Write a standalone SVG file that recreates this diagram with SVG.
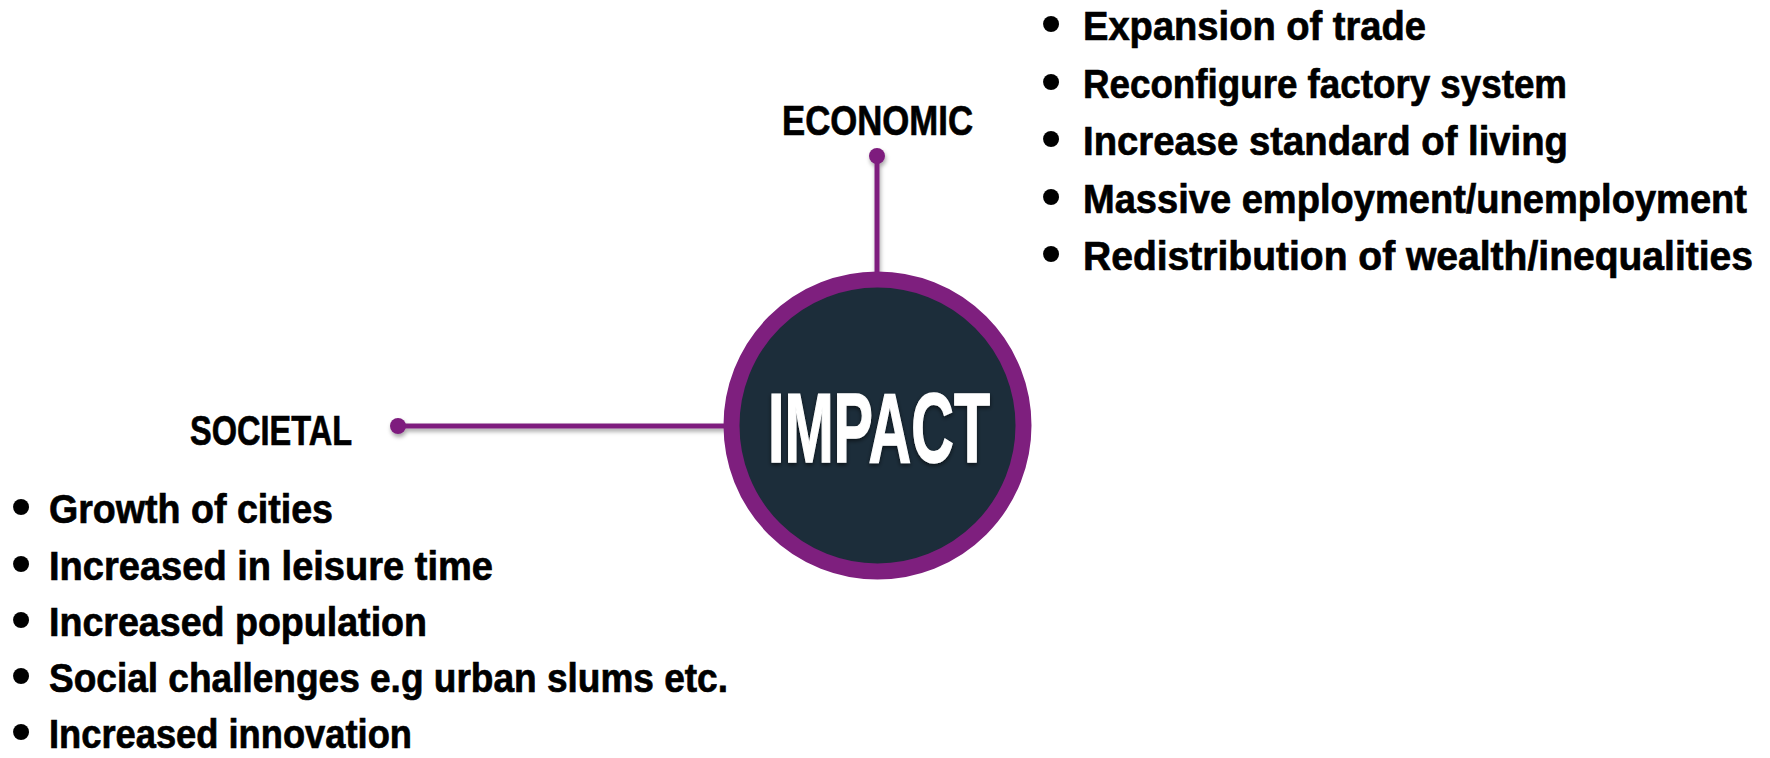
<svg xmlns="http://www.w3.org/2000/svg" width="1770" height="758" viewBox="0 0 1770 758">
  <defs>
    <style>
      .lbl { font-family: "Liberation Sans", Arial, sans-serif; font-weight: bold; fill: #000; stroke: #000; stroke-width: 0.7px; }
      .head { font-size: 43px; }
      .item { font-size: 41px; }
      .bul { font-family: "Liberation Sans", Arial, sans-serif; font-weight: bold; font-size: 56px; fill: #000; text-anchor: middle; }
      .conn { stroke: #7e1f7e; stroke-width: 5; fill: none; }
      .dot { fill: #7e1f7e; }
    </style>
    <filter id="shadow" x="-20%" y="-20%" width="140%" height="140%">
      <feDropShadow dx="1" dy="3" stdDeviation="2" flood-color="#000" flood-opacity="0.35"/>
    </filter>
    <filter id="tshadow" x="-10%" y="-10%" width="120%" height="130%">
      <feDropShadow dx="0" dy="2" stdDeviation="2" flood-color="#000" flood-opacity="0.6"/>
    </filter>
  </defs>

  <g id="connectors" filter="url(#shadow)">
    <line class="conn" x1="877" y1="156" x2="877" y2="280"/>
    <circle class="dot" cx="877" cy="156" r="8"/>
    <line class="conn" x1="398" y1="426" x2="726" y2="426"/>
    <circle class="dot" cx="398" cy="426" r="8"/>
  </g>

  <g id="impact">
    <circle cx="877.5" cy="425.5" r="146" fill="#1c2d3a" stroke="#7e1f7e" stroke-width="16"/>
    <text x="768" y="462" font-family="'Liberation Sans', Arial, sans-serif" font-weight="bold" font-size="98" fill="#fff" stroke="#fff" stroke-width="1.5" textLength="222" lengthAdjust="spacingAndGlyphs" filter="url(#tshadow)">IMPACT</text>
  </g>

  <g id="economic">
    <text class="lbl head" x="782" y="135" textLength="191" lengthAdjust="spacingAndGlyphs">ECONOMIC</text>
    <text class="bul" x="1051" y="42">•</text>
    <text class="lbl item" x="1083" y="40" textLength="343" lengthAdjust="spacingAndGlyphs">Expansion of trade</text>
    <text class="bul" x="1051" y="100">•</text>
    <text class="lbl item" x="1083" y="98" textLength="484" lengthAdjust="spacingAndGlyphs">Reconfigure factory system</text>
    <text class="bul" x="1051" y="157">•</text>
    <text class="lbl item" x="1083" y="155" textLength="485" lengthAdjust="spacingAndGlyphs">Increase standard of living</text>
    <text class="bul" x="1051" y="215">•</text>
    <text class="lbl item" x="1083" y="213" textLength="664" lengthAdjust="spacingAndGlyphs">Massive employment/unemployment</text>
    <text class="bul" x="1051" y="272">•</text>
    <text class="lbl item" x="1083" y="270" textLength="670" lengthAdjust="spacingAndGlyphs">Redistribution of wealth/inequalities</text>
  </g>

  <g id="societal">
    <text class="lbl head" x="190" y="445" textLength="162" lengthAdjust="spacingAndGlyphs">SOCIETAL</text>
    <text class="bul" x="21" y="525">•</text>
    <text class="lbl item" x="49" y="523" textLength="284" lengthAdjust="spacingAndGlyphs">Growth of cities</text>
    <text class="bul" x="21" y="582">•</text>
    <text class="lbl item" x="49" y="580" textLength="444" lengthAdjust="spacingAndGlyphs">Increased in leisure time</text>
    <text class="bul" x="21" y="638">•</text>
    <text class="lbl item" x="49" y="636" textLength="378" lengthAdjust="spacingAndGlyphs">Increased population</text>
    <text class="bul" x="21" y="694">•</text>
    <text class="lbl item" x="49" y="692" textLength="679" lengthAdjust="spacingAndGlyphs">Social challenges e.g urban slums etc.</text>
    <text class="bul" x="21" y="750">•</text>
    <text class="lbl item" x="49" y="748" textLength="363" lengthAdjust="spacingAndGlyphs">Increased innovation</text>
  </g>
</svg>
